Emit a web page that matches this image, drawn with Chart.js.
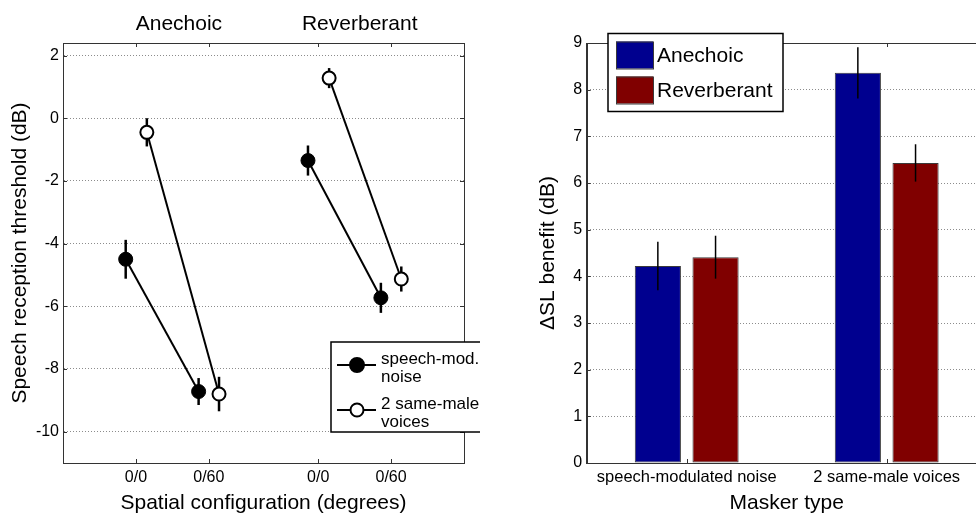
<!DOCTYPE html>
<html>
<head>
<meta charset="utf-8">
<script src="https://cdn.jsdelivr.net/npm/chart.js@4.4.1/dist/chart.umd.min.js"></script>
<style>
html, body { margin: 0; padding: 0; background: #fff; overflow: hidden; width: 976px; height: 516px; }
canvas { position: absolute; top: 0; }
#srtChart { left: 0; }
#benefitChart { left: 500px; }
</style>
</head>
<body>
<canvas id="srtChart" width="480" height="516"></canvas>
<canvas id="benefitChart" width="510" height="516"></canvas>
<script>
// left panel: speech reception thresholds
var roomTitles = ['Anechoic', 'Reverberant'];
var roomTitleX = [1.59, 4.07];
var xTickPos = [1, 2, 3.5, 4.5];
var xTickLabels = ['0/0', '0/60', '0/0', '0/60'];
var yTicksLeft = [-10, -8, -6, -4, -2, 0, 2];

var noiseX = [0.86, 1.86, 3.36, 4.36];
var noiseY = [-4.5, -8.72, -1.35, -5.73];
var noiseErr = [0.62, 0.43, 0.48, 0.48];
var voicesX = [1.15, 2.14, 3.65, 4.64];
var voicesY = [-0.45, -8.8, 1.28, -5.13];
var voicesErr = [0.45, 0.55, 0.32, 0.4];
var seriesNames = [['speech-mod.', 'noise'], ['2 same-male', 'voices']];

// right panel: benefit
var maskers = ['speech-modulated noise', '2 same-male voices'];
var roomNames = ['Anechoic', 'Reverberant'];
var anechoicBenefit = [4.22, 8.36];
var anechoicErr = [0.52, 0.55];
var reverbBenefit = [4.41, 6.43];
var reverbErr = [0.46, 0.4];
var yTicksRight = [0, 1, 2, 3, 4, 5, 6, 7, 8, 9];

var FONT = '"Liberation Sans", Arial, Helvetica, sans-serif';
Chart.defaults.font.family = FONT;
Chart.defaults.color = '#000';

var GRID = '#8c8c8c';
var AXIS = '#333';

function pairData(xs, ys, from) {
    return [{x: xs[from], y: ys[from]}, {x: xs[from + 1], y: ys[from + 1]}];
}

function srtDataset(xs, ys, errs, from, filled) {
    return {
        data: pairData(xs, ys, from),
        err: errs.slice(from, from + 2),
        showLine: true,
        borderColor: '#000',
        borderWidth: 2,
        pointRadius: filled ? 7 : 6.5,
        pointBackgroundColor: filled ? '#000' : '#fff',
        pointBorderColor: '#000',
        pointBorderWidth: filled ? 1 : 2
    };
}

var srtDatasets = [
    srtDataset(noiseX, noiseY, noiseErr, 0, true),
    srtDataset(noiseX, noiseY, noiseErr, 2, true),
    srtDataset(voicesX, voicesY, voicesErr, 0, false),
    srtDataset(voicesX, voicesY, voicesErr, 2, false)
];

function drawFrame(chart, xVals, yVals) {
    var ctx = chart.ctx, a = chart.chartArea;
    var xs = chart.scales.x, ys = chart.scales.y;
    ctx.save();
    ctx.setLineDash([]);
    ctx.strokeStyle = AXIS;
    ctx.lineWidth = 1;
    ctx.strokeRect(Math.round(a.left) + 0.5, Math.round(a.top) + 0.5,
        Math.round(a.right - a.left), Math.round(a.bottom - a.top));
    ctx.beginPath();
    xVals.forEach(function (v, i) {
        var px = Math.round(xs.getPixelForValue(v, i)) + 0.5;
        ctx.moveTo(px, a.bottom); ctx.lineTo(px, a.bottom - 4);
        ctx.moveTo(px, a.top); ctx.lineTo(px, a.top + 4);
    });
    yVals.forEach(function (v) {
        var py = Math.round(ys.getPixelForValue(v)) + 0.5;
        ctx.moveTo(a.left, py); ctx.lineTo(a.left + 4, py);
        ctx.moveTo(a.right, py); ctx.lineTo(a.right - 4, py);
    });
    ctx.stroke();
    ctx.restore();
}

var srtExtras = {
    id: 'srtExtras',
    beforeDatasetsDraw: function (chart) {
        var ctx = chart.ctx, ys = chart.scales.y;
        ctx.save();
        ctx.strokeStyle = '#000';
        ctx.lineWidth = 2.5;
        chart.data.datasets.forEach(function (ds, i) {
            var meta = chart.getDatasetMeta(i);
            ds.data.forEach(function (p, j) {
                var x = meta.data[j].x;
                ctx.beginPath();
                ctx.moveTo(x, ys.getPixelForValue(p.y + ds.err[j]));
                ctx.lineTo(x, ys.getPixelForValue(p.y - ds.err[j]));
                ctx.stroke();
            });
        });
        ctx.restore();
    },
    afterDraw: function (chart) {
        var ctx = chart.ctx, xs = chart.scales.x;
        drawFrame(chart, xTickPos, yTicksLeft);
        ctx.save();
        ctx.fillStyle = '#000';
        ctx.font = '21px ' + FONT;
        ctx.textAlign = 'center';
        ctx.textBaseline = 'middle';
        roomTitles.forEach(function (t, i) {
            ctx.fillText(t, xs.getPixelForValue(roomTitleX[i]), 24);
        });

        // legend (runs past the panel edge, as in the original figure)
        ctx.fillStyle = '#fff';
        ctx.fillRect(331, 342, 160, 90);
        ctx.strokeStyle = '#000';
        ctx.lineWidth = 1.5;
        ctx.strokeRect(331, 342, 160, 90);
        ctx.font = '17px ' + FONT;
        ctx.textAlign = 'left';
        ctx.textBaseline = 'alphabetic';
        var rows = [365, 410];
        seriesNames.forEach(function (lines, i) {
            var y = rows[i];
            ctx.strokeStyle = '#000';
            ctx.lineWidth = 2;
            ctx.beginPath();
            ctx.moveTo(337, y); ctx.lineTo(376, y);
            ctx.stroke();
            ctx.beginPath();
            ctx.arc(357, y, i === 0 ? 7 : 6.5, 0, Math.PI * 2);
            ctx.fillStyle = i === 0 ? '#000' : '#fff';
            ctx.fill();
            ctx.stroke();
            ctx.fillStyle = '#000';
            ctx.fillText(lines[0], 381, y - 1.5);
            ctx.fillText(lines[1], 381, y + 16.5);
        });
        ctx.restore();
    }
};

var srtChart = new Chart(document.getElementById('srtChart').getContext('2d'), {
    type: 'scatter',
    data: { datasets: srtDatasets },
    options: {
        responsive: false,
        animation: false,
        devicePixelRatio: 1,
        layout: { padding: { top: 43, right: 16, left: 0, bottom: 0 } },
        plugins: { legend: { display: false }, tooltip: { enabled: false } },
        scales: {
            x: {
                type: 'linear',
                min: 0,
                max: 5.5,
                afterFit: function (s) { s.height = 53; },
                afterBuildTicks: function (s) { s.ticks = xTickPos.map(function (v) { return {value: v}; }); },
                ticks: {
                    autoSkip: false,
                    maxRotation: 0,
                    padding: 5,
                    font: { size: 16 },
                    callback: function (v, i) { return xTickLabels[i]; }
                },
                grid: { display: false, drawTicks: false },
                border: { display: true, color: AXIS },
                title: { display: true, text: 'Spatial configuration (degrees)', font: { size: 21 }, padding: 0 }
            },
            y: {
                min: -11,
                max: 2.4,
                afterFit: function (s) { s.width = 63; },
                afterBuildTicks: function (s) { s.ticks = yTicksLeft.map(function (v) { return {value: v}; }); },
                ticks: { padding: 4, font: { size: 16 } },
                grid: { color: GRID, lineWidth: 1, drawTicks: false },
                border: { display: true, color: AXIS, dash: [1, 2] },
                title: { display: true, text: 'Speech reception threshold (dB)', font: { size: 21 }, padding: { top: 8, bottom: 0 } }
            }
        }
    },
    plugins: [srtExtras]
});

var benefitExtras = {
    id: 'benefitExtras',
    afterDatasetsDraw: function (chart) {
        var ctx = chart.ctx, ys = chart.scales.y;
        ctx.save();
        ctx.strokeStyle = '#000';
        ctx.lineWidth = 1.5;
        chart.data.datasets.forEach(function (ds, i) {
            var meta = chart.getDatasetMeta(i);
            ds.data.forEach(function (v, j) {
                var x = meta.data[j].x;
                ctx.beginPath();
                ctx.moveTo(x, ys.getPixelForValue(v + ds.err[j]));
                ctx.lineTo(x, ys.getPixelForValue(v - ds.err[j]));
                ctx.stroke();
            });
        });
        ctx.restore();
    },
    afterDraw: function (chart) {
        var ctx = chart.ctx;
        drawFrame(chart, maskers.map(function (m, i) { return i; }), yTicksRight);
        ctx.save();
        ctx.fillStyle = '#fff';
        ctx.fillRect(108, 33.5, 175, 78);
        ctx.strokeStyle = '#000';
        ctx.lineWidth = 1.5;
        ctx.strokeRect(108, 33.5, 175, 78);
        ctx.font = '21px ' + FONT;
        ctx.textAlign = 'left';
        ctx.textBaseline = 'middle';
        var rows = [55, 90];
        chart.data.datasets.forEach(function (ds, i) {
            ctx.fillStyle = ds.backgroundColor;
            ctx.fillRect(116, rows[i] - 13.5, 37, 27);
            ctx.strokeStyle = '#3a3a3a';
            ctx.lineWidth = 1;
            ctx.strokeRect(116.5, rows[i] - 13, 37, 27);
            ctx.fillStyle = '#000';
            ctx.fillText(ds.label, 157, rows[i] + 1);
        });
        ctx.restore();
    }
};

var benefitChart = new Chart(document.getElementById('benefitChart').getContext('2d'), {
    type: 'bar',
    data: {
        labels: maskers,
        datasets: [
            { label: roomNames[0], data: anechoicBenefit, err: anechoicErr, backgroundColor: '#00008f', borderColor: '#3a3a3a', borderWidth: 1, borderSkipped: false },
            { label: roomNames[1], data: reverbBenefit, err: reverbErr, backgroundColor: '#800000', borderColor: '#3a3a3a', borderWidth: 1, borderSkipped: false }
        ]
    },
    options: {
        responsive: false,
        animation: false,
        devicePixelRatio: 1,
        datasets: { bar: { categoryPercentage: 0.577, barPercentage: 0.8 } },
        layout: { padding: { top: 43, right: 23.3, left: 0, bottom: 0 } },
        plugins: { legend: { display: false }, tooltip: { enabled: false } },
        scales: {
            x: {
                afterFit: function (s) { s.height = 53; },
                ticks: { padding: 5, maxRotation: 0, font: { size: 16.5 } },
                grid: { display: false, drawTicks: false },
                border: { display: true, color: AXIS },
                title: { display: true, text: 'Masker type', font: { size: 21 }, padding: 0 }
            },
            y: {
                min: 0,
                max: 9,
                afterFit: function (s) { s.width = 86.7; },
                afterBuildTicks: function (s) { s.ticks = yTicksRight.map(function (v) { return {value: v}; }); },
                ticks: { padding: 4.5, font: { size: 16 } },
                grid: { color: GRID, lineWidth: 1, drawTicks: false },
                border: { display: true, color: AXIS, dash: [1, 2] },
                title: { display: true, text: 'ΔSL benefit (dB)', font: { size: 21 }, padding: { top: 36, bottom: 0 } }
            }
        }
    },
    plugins: [benefitExtras]
});
</script>
</body>
</html>
